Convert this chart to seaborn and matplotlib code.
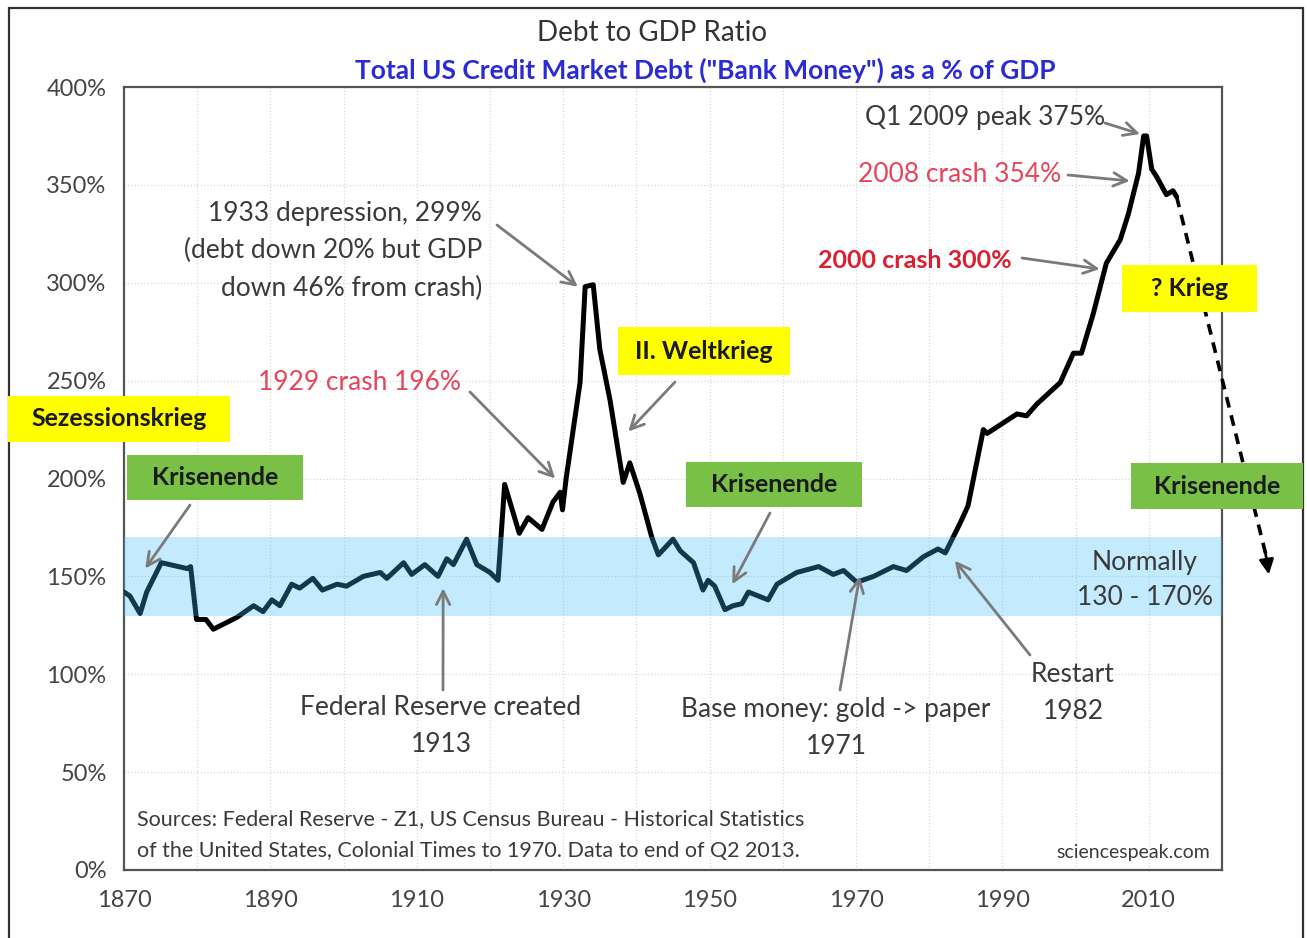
import matplotlib
matplotlib.use("Agg")
import matplotlib.pyplot as plt
import matplotlib.patches as mpatches
from matplotlib.ticker import MultipleLocator, FuncFormatter
import seaborn as sns
import pandas as pd

# total US credit market debt as % of GDP
years = [1870.0, 1870.8, 1872.2, 1873.1, 1875.1, 1878.6, 1879.1, 1879.9, 1881.2, 1882.2,
         1885.4, 1887.7, 1889.0, 1890.2, 1891.3, 1892.9, 1894.0, 1895.8, 1897.1, 1899.1,
         1900.4, 1902.7, 1905.0, 1905.9, 1908.2, 1909.3, 1911.1, 1912.9, 1914.1, 1915.0,
         1916.8, 1918.2, 1920.0, 1921.1, 1922.0, 1924.0, 1925.2, 1927.1, 1928.6, 1929.6,
         1929.9, 1930.4, 1932.3, 1933.0, 1934.1, 1935.0, 1936.4, 1938.2, 1939.1, 1940.5,
         1942.1, 1943.0, 1945.0, 1946.0, 1947.8, 1949.1, 1949.8, 1950.7, 1952.1, 1953.2,
         1954.4, 1955.3, 1958.0, 1959.2, 1961.9, 1964.9, 1966.9, 1968.3, 1970.1, 1972.4,
         1975.1, 1976.9, 1979.2, 1981.2, 1982.2, 1984.2, 1985.3, 1987.4, 1987.9, 1992.0,
         1993.3, 1994.7, 1997.9, 1999.7, 2000.8, 2002.4, 2004.2, 2006.1, 2007.2, 2008.6,
         2009.3, 2009.7, 2010.4, 2011.1, 2012.4, 2013.3, 2013.8]
debt_pct = [142, 140, 131, 142, 157, 154, 155, 128, 128, 123,
            129, 135, 132, 138, 135, 146, 144, 149, 143, 146,
            145, 150, 152, 149, 157, 151, 156, 150, 159, 156,
            169, 156, 152, 148, 197, 172, 180, 174, 188, 193,
            184, 200, 249, 298, 299, 266, 240, 198, 208, 192,
            170, 161, 169, 163, 157, 143, 148, 145, 133, 135,
            136, 142, 138, 146, 152, 155, 151, 153, 147, 150,
            155, 153, 160, 164, 162, 177, 186, 225, 223, 233,
            232, 238, 249, 264, 264, 284, 310, 322, 335, 356,
            375, 375, 358, 354, 345, 347, 344]

# dashed projection after the last data point
proj_years = [2013.8, 2026.3]
proj_pct = [344, 155]

normal_band = (130, 170)
x_ticks = [1870, 1890, 1910, 1930, 1950, 1970, 1990, 2010]
y_ticks = [0, 50, 100, 150, 200, 250, 300, 350, 400]

sns.set_theme(style="white")
plt.rcParams["font.family"] = ["Lato", "DejaVu Sans"]

W, H = 1307, 938
fig = plt.figure(figsize=(W / 100, H / 100), dpi=100)
fig.patch.set_facecolor("white")


def fp(x, y):
    # pixel position in the picture -> figure fraction
    return (x / W, 1 - y / H)


ax = fig.add_axes([124 / W, 1 - 870 / H, (1222 - 124) / W, (870 - 87) / H])

df = pd.DataFrame({"year": years, "debt": debt_pct})
sns.lineplot(data=df, x="year", y="debt", ax=ax, color="black", lw=3.6, zorder=3)
ax.plot(proj_years[:1] + [proj_years[1] - 0.3], [proj_pct[0], proj_pct[1] + 6], color="black",
        lw=2.6, ls=(0, (3, 2.2)), clip_on=False, zorder=3)
ax.annotate("", xy=(proj_years[1] + 0.1, proj_pct[1] - 4), xytext=(proj_years[1] - 0.4, proj_pct[1] + 8),
            arrowprops=dict(arrowstyle="-|>", color="black", lw=2, mutation_scale=22,
                            shrinkA=0, shrinkB=0), annotation_clip=False)
ax.axhspan(*normal_band, color=(0.24, 0.75, 0.98), alpha=0.3, lw=0, zorder=4)

ax.set_xlim(1870, 2020)
ax.set_ylim(0, 400)
ax.set_xticks(x_ticks)
ax.set_yticks(y_ticks)
ax.xaxis.set_minor_locator(MultipleLocator(10))
ax.yaxis.set_minor_locator(MultipleLocator(10))
ax.yaxis.set_major_formatter(FuncFormatter(lambda v, p: f"{v:.0f}%"))
ax.set_xlabel("")
ax.set_ylabel("")
ax.tick_params(which="major", direction="inout", length=9, width=1.3, color="#555555",
               labelsize=17, labelcolor="#444444")
ax.tick_params(axis="x", which="major", pad=10)
ax.tick_params(axis="y", which="major", pad=8)
ax.tick_params(which="minor", direction="inout", length=5, width=1, color="#555555")
for s in ax.spines.values():
    s.set_color("#555555")
    s.set_linewidth(1.6)

# faint dotted grid
for v in range(1880, 2020, 10):
    ax.axvline(v, color="#d9d9d9", lw=0.9, ls=":", zorder=1)
for v in range(50, 400, 50):
    ax.axhline(v, color="#d9d9d9", lw=0.9, ls=":", zorder=1)

# outer frame of the picture
fig.add_artist(mpatches.Rectangle(fp(9, 945), (1303 - 9) / W, (945 - 8) / H, transform=fig.transFigure,
                                  fill=False, ec="#333333", lw=1.6))

# titles
fig.text(*fp(652, 33), "Debt to GDP Ratio", ha="center", va="center", fontsize=20, color="#333333")
fig.text(*fp(705, 70), 'Total US Credit Market Debt ("Bank Money") as a % of GDP', ha="center",
         va="center", fontsize=19, fontweight="bold", color="#2b2bd6")

txt_gray = "#3a3a3a"
arrow_gray = "#7a7a7a"


def arrow(start, target):
    ax.annotate("", xy=target, xycoords="data", xytext=fp(*start), textcoords="figure fraction",
                arrowprops=dict(arrowstyle="->", color=arrow_gray, lw=2, mutation_scale=24,
                                shrinkA=0, shrinkB=0), annotation_clip=False, zorder=6)


def box(x0, y0, x1, y1, label, color):
    fig.add_artist(mpatches.Rectangle(fp(x0, y1), (x1 - x0) / W, (y1 - y0) / H,
                                      transform=fig.transFigure, fc=color, ec="none", zorder=5))
    fig.text(*fp((x0 + x1) / 2, (y0 + y1) / 2), label, ha="center", va="center", fontsize=18,
             fontweight="bold", color="#1a1a1a", zorder=6)


# annotations
fig.text(*fp(985, 118), "Q1 2009 peak 375%", ha="center", va="center", fontsize=19, color=txt_gray)
arrow((1105, 123), (2008.8, 376))
fig.text(*fp(960, 175), "2008 crash 354%", ha="center", va="center", fontsize=19, color="#e8445a")
arrow((1068, 175), (2007.4, 352))
fig.text(*fp(915, 260), "2000 crash 300%", ha="center", va="center", fontsize=18, fontweight="bold",
         color="#d92030")
arrow((1022, 258), (2003.3, 307))
fig.text(*fp(482, 251), "1933 depression, 299%\n(debt down 20% but GDP\ndown 46% from crash)",
         ha="right", va="center", multialignment="right", fontsize=19, color=txt_gray, linespacing=1.6)
arrow((497, 225), (1932.0, 298))
fig.text(*fp(360, 382), "1929 crash 196%", ha="center", va="center", fontsize=19, color="#e8445a")
arrow((470, 392), (1928.9, 200))
arrow((675, 382), (1938.9, 224))
arrow((190, 505), (1872.9, 154))
arrow((770, 513), (1953.1, 146))
fig.text(*fp(1145, 580), "Normally\n130 - 170%", ha="center", va="center", fontsize=19, color=txt_gray,
         linespacing=1.5)
fig.text(*fp(441, 726), "Federal Reserve created\n1913", ha="center", va="center", fontsize=19,
         color=txt_gray, linespacing=1.6)
arrow((443, 690), (1913.6, 144))
fig.text(*fp(836, 728), "Base money: gold -> paper\n1971", ha="center", va="center", fontsize=19,
         color=txt_gray, linespacing=1.6)
arrow((840, 690), (1970.5, 150))
fig.text(*fp(1073, 693), "Restart\n1982", ha="center", va="center", fontsize=19, color=txt_gray,
         linespacing=1.6)
arrow((1030, 655), (1983.5, 158))
fig.text(*fp(137, 835), "Sources: Federal Reserve - Z1, US Census Bureau - Historical Statistics\n"
         "of the United States, Colonial Times to 1970. Data to end of Q2 2013.",
         ha="left", va="center", fontsize=15.5, color=txt_gray, linespacing=1.75)
fig.text(*fp(1210, 852), "sciencespeak.com", ha="right", va="center", fontsize=14, color=txt_gray)

yellow, green = "#ffff00", "#78c046"
box(8, 396, 230, 442, "Sezessionskrieg", yellow)
box(127, 455, 303, 500, "Krisenende", green)
box(618, 327, 790, 375, "II. Weltkrieg", yellow)
box(686, 462, 862, 507, "Krisenende", green)
box(1122, 265, 1257, 312, "? Krieg", yellow)
box(1131, 463, 1303, 509, "Krisenende", green)

fig.savefig("out.png", dpi=100)
